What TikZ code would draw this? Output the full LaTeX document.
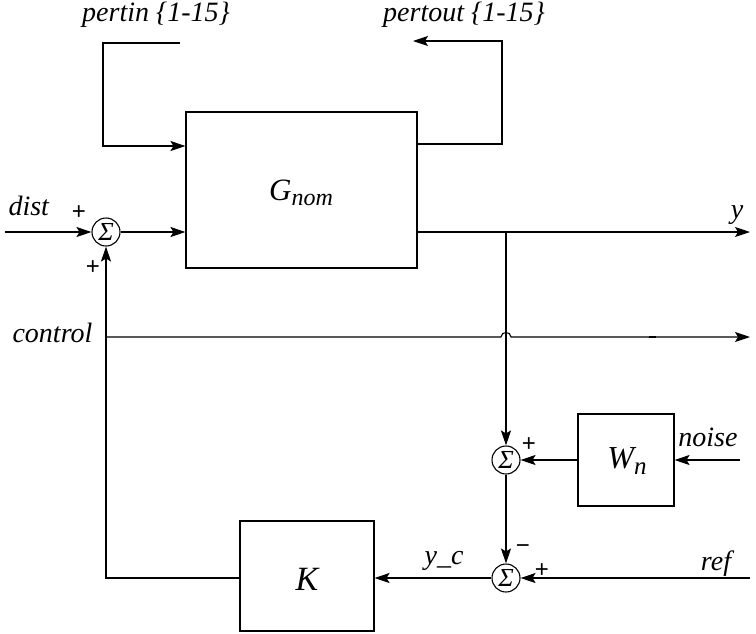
\documentclass[tikz,border=0pt]{standalone}
\usepackage{fontspec}
\setmainfont{Liberation Serif}[ItalicFont={Liberation Serif Italic}]
\newfontfamily\serifit{Liberation Serif Italic}
\newfontfamily\sansf{Liberation Sans}
\usetikzlibrary{arrows.meta}
\begin{document}
\begin{tikzpicture}[x=1pt,y=-1pt, line width=1.1pt,
  >={Stealth[length=15pt,width=10pt,inset=3pt]},
  blk/.style={draw, line width=1.1pt, inner sep=0pt},
  sumnode/.style={draw, circle, minimum size=28pt, inner sep=0pt, font=\serifit\fontsize{26}{26}\selectfont},
  lbl/.style={font=\serifit\fontsize{28}{30}\selectfont, inner sep=0pt},
  sgn/.style={font=\sansf\fontsize{24}{24}\selectfont, inner sep=0pt}]
\useasboundingbox (0,0) rectangle (756,633);
% blocks
\node[blk, minimum width=231pt, minimum height=156pt] (G) at (301.5,190) {};
\node[blk, minimum width=96pt, minimum height=92pt] (W) at (626,460) {};
\node[blk, minimum width=134pt, minimum height=110pt] (K) at (307,576) {};
\node[anchor=base, inner sep=0pt] (Gt) at (301,200) {\serifit\fontsize{31}{31}\selectfont G\raisebox{-5pt}{\fontsize{24}{24}\selectfont nom}};
\node[anchor=base, inner sep=0pt] (Wt) at (627,468) {\serifit\fontsize{32}{32}\selectfont W\raisebox{-6pt}{\fontsize{25}{25}\selectfont n}};
\node[anchor=base, inner sep=0pt] (Kt) at (307,590) {\serifit\fontsize{34}{34}\selectfont K};
% sums
\node[sumnode] (s1) at (106,232) {Σ};
\node[sumnode] (s2) at (506,460) {Σ};
\node[sumnode] (s3) at (506,578) {Σ};
% coordinates
\coordinate (din) at (5,232);
\coordinate (pinA) at (180,43);
\coordinate (pinB) at (103,43);
\coordinate (pinC) at (103,146);
\coordinate (poA) at (502,144);
\coordinate (poB) at (502,41);
\coordinate (poC) at (413,41);
\coordinate (yend) at (750,232);
\coordinate (br) at (506,232);
\coordinate (cst) at (106,337);
\coordinate (cend) at (750,337);
\coordinate (hopL) at (501,337);
\coordinate (hopR) at (511,337);
\coordinate (nin) at (740,460);
\coordinate (rin) at (750,578);
\coordinate (kc) at (106,578);
% connectors
\draw[->] (din) -- (s1);
\draw[->] (s1) -- (s1 -| G.west);
\draw[->] (pinA) -- (pinB) -- (pinC) -- (pinC -| G.west);
\draw[->] (G.east |- poA) -- (poA) -- (poB) -- (poC);
\draw[->] (G.east |- yend) -- (yend);
\draw[->] (br) -- (s2);
\draw[->] (cst) -- (hopL) .. controls (501,331) and (511,331) .. (hopR) -- (cend);
\draw[line width=2pt] (649,337) -- (656,337);
\draw[->] (nin) -- (W);
\draw[->] (W) -- (s2);
\draw[->] (s2) -- (s3);
\draw[->] (rin) -- (s3);
\draw[->] (s3) -- (s3 -| K.east);
\draw[->] (K.west |- kc) -- (kc) -- (s1);
% labels
\node[lbl, anchor=base] (lpin) at (156,21) {pertin \{1-15\}};
\node[lbl, anchor=base] (lpout) at (464,21) {pertout \{1-15\}};
\node[lbl, anchor=base west] (ldist) at (8,215) {dist};
\node[lbl, anchor=base] (ly) at (737,218) {y};
\node[lbl, anchor=base west] (lctl) at (12,342) {control};
\node[lbl, anchor=base] (lnoise) at (708,446) {noise};
\node[lbl, anchor=base] (lyc) at (444,564) {y\_c};
\node[lbl, anchor=base] (lref) at (716,570) {ref};
\node[sgn] (p1) at (79,213) {+};
\node[sgn] (p2) at (93,268) {+};
\node[sgn] (p3) at (529,445) {+};
\node[sgn] (m1) at (523,549) {−};
\node[sgn] (p4) at (542,571) {+};
\end{tikzpicture}
\end{document}
